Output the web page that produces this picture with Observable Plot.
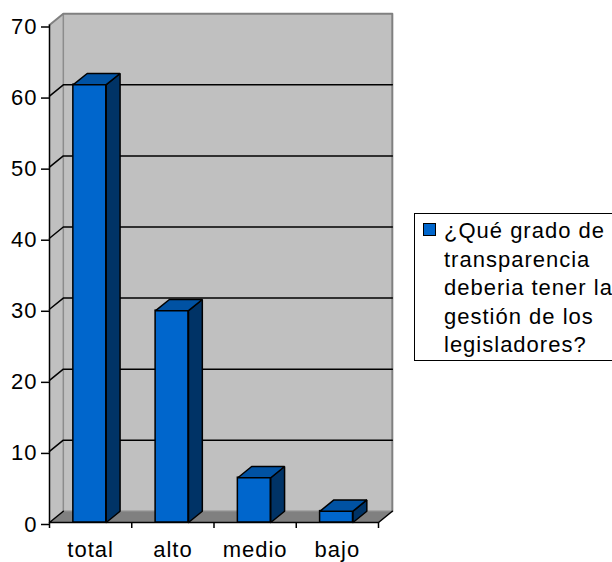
<!DOCTYPE html>
<html>
<head>
<meta charset="utf-8">
<script src="https://cdn.jsdelivr.net/npm/d3@7"></script>
<script src="https://cdn.jsdelivr.net/npm/@observablehq/plot@0.6"></script>
<style>
html, body { margin: 0; padding: 0; background: #fff; overflow: hidden; width: 612px; height: 562px; }
#wrap { position: relative; width: 612px; height: 562px; font-family: "Liberation Sans", Arial, sans-serif; }
#wrap svg text { letter-spacing: 1px; }
#legendBox { position: absolute; left: 414px; top: 213px; width: 240px; height: 148px; border: 1.5px solid #000; box-sizing: border-box; background: #fff; }
#legendSwatch { position: absolute; left: 423px; top: 223px; width: 13px; height: 13px; background: #0066CC; border: 1px solid #000; box-sizing: border-box; }
#legendText { position: absolute; left: 444px; top: 217px; font-size: 22px; line-height: 28.5px; color: #000; white-space: nowrap; letter-spacing: 1px; }
</style>
</head>
<body>
<div id="wrap"></div>
<script>
// ---- data ----
const categories = ["total", "alto", "medio", "bajo"];
const values = [61.6, 29.8, 6.3, 1.6];
const yTicks = [0, 10, 20, 30, 40, 50, 60, 70];
const gridValues = [10, 20, 30, 40, 50, 60];
const legendLines = ["¿Qué grado de", "transparencia", "deberia tener la", "gestión de los", "legisladores?"];

// ---- 3D geometry (depth offsets in data units) ----
const DX = 0.168, DY = 1.58;
const B0 = 0.29, B1 = 0.69;
const N = categories.length;
const YMAX = 70;

const bars = categories.map((c, i) => ({cat: c, x1: i + B0, x2: i + B1, v: values[i]}));

const poly = (id, pts) => pts.concat([pts[0]]).map(([x, y]) => ({id, x, y}));

const tops = bars.flatMap((b, i) => poly("t" + i, [[b.x1, b.v], [b.x2, b.v], [b.x2 + DX, b.v + DY], [b.x1 + DX, b.v + DY]]));
const sides = bars.flatMap((b, i) => poly("s" + i, [[b.x2, 0], [b.x2, b.v], [b.x2 + DX, b.v + DY], [b.x2 + DX, DY]]));

const backWall = poly("back", [[DX, DY], [N + DX, DY], [N + DX, YMAX + DY], [DX, YMAX + DY]]);
const leftWall = poly("left", [[0, 0], [0, YMAX], [DX, YMAX + DY], [DX, DY]]);
const floor = poly("floor", [[0, 0], [N, 0], [N + DX, DY], [DX, DY]]);
const grid = gridValues.flatMap(t => [[0, t], [DX, t + DY], [N + DX, t + DY]].map(([x, y]) => ({id: "g" + t, x, y})));
const wallEdge = [[0, YMAX], [DX, YMAX + DY], [N + DX, YMAX + DY], [N + DX, DY]].map(([x, y]) => ({id: "e", x, y}));
const backBase = [[DX, YMAX + DY], [DX, DY], [N + DX, DY]].map(([x, y]) => ({id: "bb", x, y}));
const floorEdges = [[DX, DY], [0, 0], [N, 0], [N + DX, DY]].map(([x, y]) => ({id: "f", x, y}));

const chart = Plot.plot({
  width: 612,
  height: 562,
  marginLeft: 49,
  marginRight: 234,
  marginTop: 24.5,
  marginBottom: 40,
  style: {fontFamily: "'Liberation Sans', Arial, sans-serif", fontSize: "22px", background: "#fff", color: "#000", overflow: "visible"},
  x: {domain: [0, N]},
  y: {domain: [0, YMAX]},
  marks: [
    Plot.line(backWall, {x: "x", y: "y", z: "id", fill: "#C0C0C0", stroke: "none"}),
    Plot.line(leftWall, {x: "x", y: "y", z: "id", fill: "#C0C0C0", stroke: "none"}),
    Plot.line(floor, {x: "x", y: "y", z: "id", fill: "#808080", stroke: "none"}),
    Plot.line(backBase, {x: "x", y: "y", z: "id", stroke: "#8C8C8C", strokeWidth: 1.5}),
    Plot.line(wallEdge, {x: "x", y: "y", z: "id", stroke: "#808080", strokeWidth: 2}),
    Plot.line(grid, {x: "x", y: "y", z: "id", stroke: "#000", strokeWidth: 1.5}),
    Plot.line(floorEdges, {x: "x", y: "y", z: "id", stroke: "#000", strokeWidth: 1.5}),
    Plot.rect(bars, {x1: "x1", x2: "x2", y1: 0, y2: "v", fill: "#0066CC", stroke: "#000", strokeWidth: 1.5}),
    Plot.line(sides, {x: "x", y: "y", z: "id", fill: "#003366", stroke: "#000", strokeWidth: 1.5, strokeLinejoin: "miter"}),
    Plot.line(tops, {x: "x", y: "y", z: "id", fill: "#0052A3", stroke: "#000", strokeWidth: 1.5, strokeLinejoin: "miter"}),
    Plot.ruleX([0], {y1: 0, y2: YMAX, stroke: "#000", strokeWidth: 1.5}),
    Plot.axisY({ticks: yTicks, tickSize: 8, tickPadding: 4, fontSize: 22, strokeWidth: 1.5, dy: 2, tickFormat: d => String(d), label: null}),
    Plot.axisX({ticks: d3.range(0, N + 1), tickSize: 6, strokeWidth: 1.5, tickFormat: () => "", label: null}),
    Plot.axisX({ticks: categories.map((c, i) => i + 0.5), tickSize: 0, tickPadding: 19, fontSize: 22, tickFormat: d => categories[Math.floor(d)], label: null})
  ]
});

const wrap = document.getElementById("wrap");
wrap.appendChild(chart);

const box = document.createElement("div"); box.id = "legendBox"; wrap.appendChild(box);
const sw = document.createElement("div"); sw.id = "legendSwatch"; wrap.appendChild(sw);
const txt = document.createElement("div"); txt.id = "legendText";
legendLines.forEach(l => { const d = document.createElement("div"); d.textContent = l; txt.appendChild(d); });
wrap.appendChild(txt);
</script>
</body>
</html>
